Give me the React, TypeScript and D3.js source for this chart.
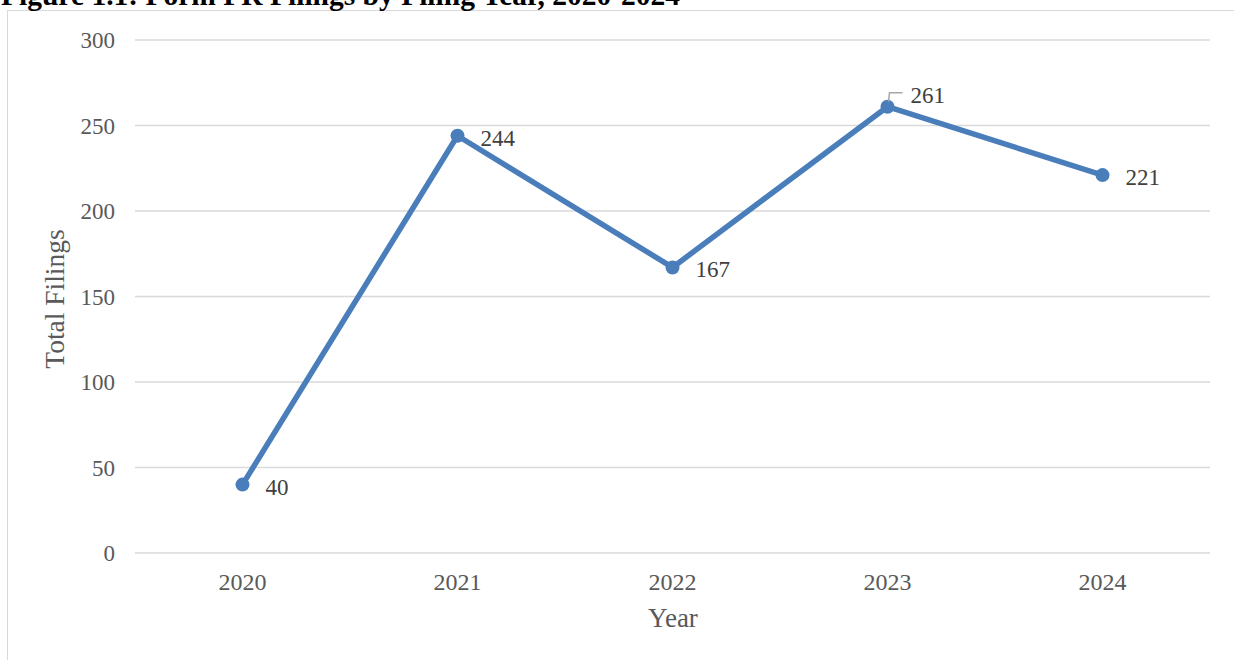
import React from "react";
import * as d3 from "d3";

const years = ["2020", "2021", "2022", "2023", "2024"];
const filings = [40, 244, 167, 261, 221];
const yTicks = [0, 50, 100, 150, 200, 250, 300];

export default function App() {
  const W = 1234, H = 660;
  const x = d3.scaleBand<string>().domain(years).range([135, 1210]);
  const y = d3.scaleLinear().domain([0, 300]).range([553, 40]);
  const cx = (d: string) => (x(d) as number) + x.bandwidth() / 2;
  const line = d3.line<number>().x((_, i) => cx(years[i])).y((v) => y(v));
  const font = "'Liberation Serif', 'Times New Roman', serif";
  return (
    <svg width={W} height={H} style={{ position: "absolute", left: 0, top: 0, background: "#fff" }}>
      <rect x={7.5} y={10.5} width={1240} height={700} fill="#fff" stroke="#d9d9d9" strokeWidth={1} />
      <text x={1} y={5} fontFamily={font} fontWeight="bold" fontSize={29.5} fill="#000">
        Figure 1.1: Form PR Filings by Filing Year, 2020-2024
      </text>
      {yTicks.map((t) => (
        <g key={t}>
          <line x1={135} x2={1210} y1={y(t)} y2={y(t)} stroke="#d9d9d9" strokeWidth={1.5} />
          <text x={115} y={y(t)} dy="0.35em" textAnchor="end" fontFamily={font} fontSize={23} fill="#595959">
            {t}
          </text>
        </g>
      ))}
      {years.map((yr) => (
        <text key={yr} x={cx(yr)} y={590} textAnchor="middle" fontFamily={font} fontSize={24} fill="#595959">
          {yr}
        </text>
      ))}
      <text x={673} y={627} textAnchor="middle" fontFamily={font} fontSize={27} fill="#595959">Year</text>
      <text transform={`translate(64,${299}) rotate(-90)`} textAnchor="middle" fontFamily={font} fontSize={27.5} fill="#595959">
        Total Filings
      </text>
      <path d={line(filings) || ""} fill="none" stroke="#4a7ebb" strokeWidth={5.5} strokeLinejoin="round" />
      {filings.map((v, i) => (
        <circle key={i} cx={cx(years[i])} cy={y(v)} r={7} fill="#4a7ebb" />
      ))}
      {filings.map((v, i) => {
        const px = cx(years[i]);
        const py = y(v);
        if (i === 3) {
          return (
            <g key={"l" + i}>
              <polyline points={`${px + 1},${py - 5} ${px + 2},${py - 14} ${px + 15},${py - 14}`} fill="none" stroke="#a6a6a6" strokeWidth={1.5} />
              <text x={px + 23} y={py - 12} dy="0.35em" fontFamily={font} fontSize={23} fill="#404040">{v}</text>
            </g>
          );
        }
        return (
          <text key={"l" + i} x={px + 23} y={py + 2} dy="0.35em" fontFamily={font} fontSize={23} fill="#404040">
            {v}
          </text>
        );
      })}
    </svg>
  );
}
